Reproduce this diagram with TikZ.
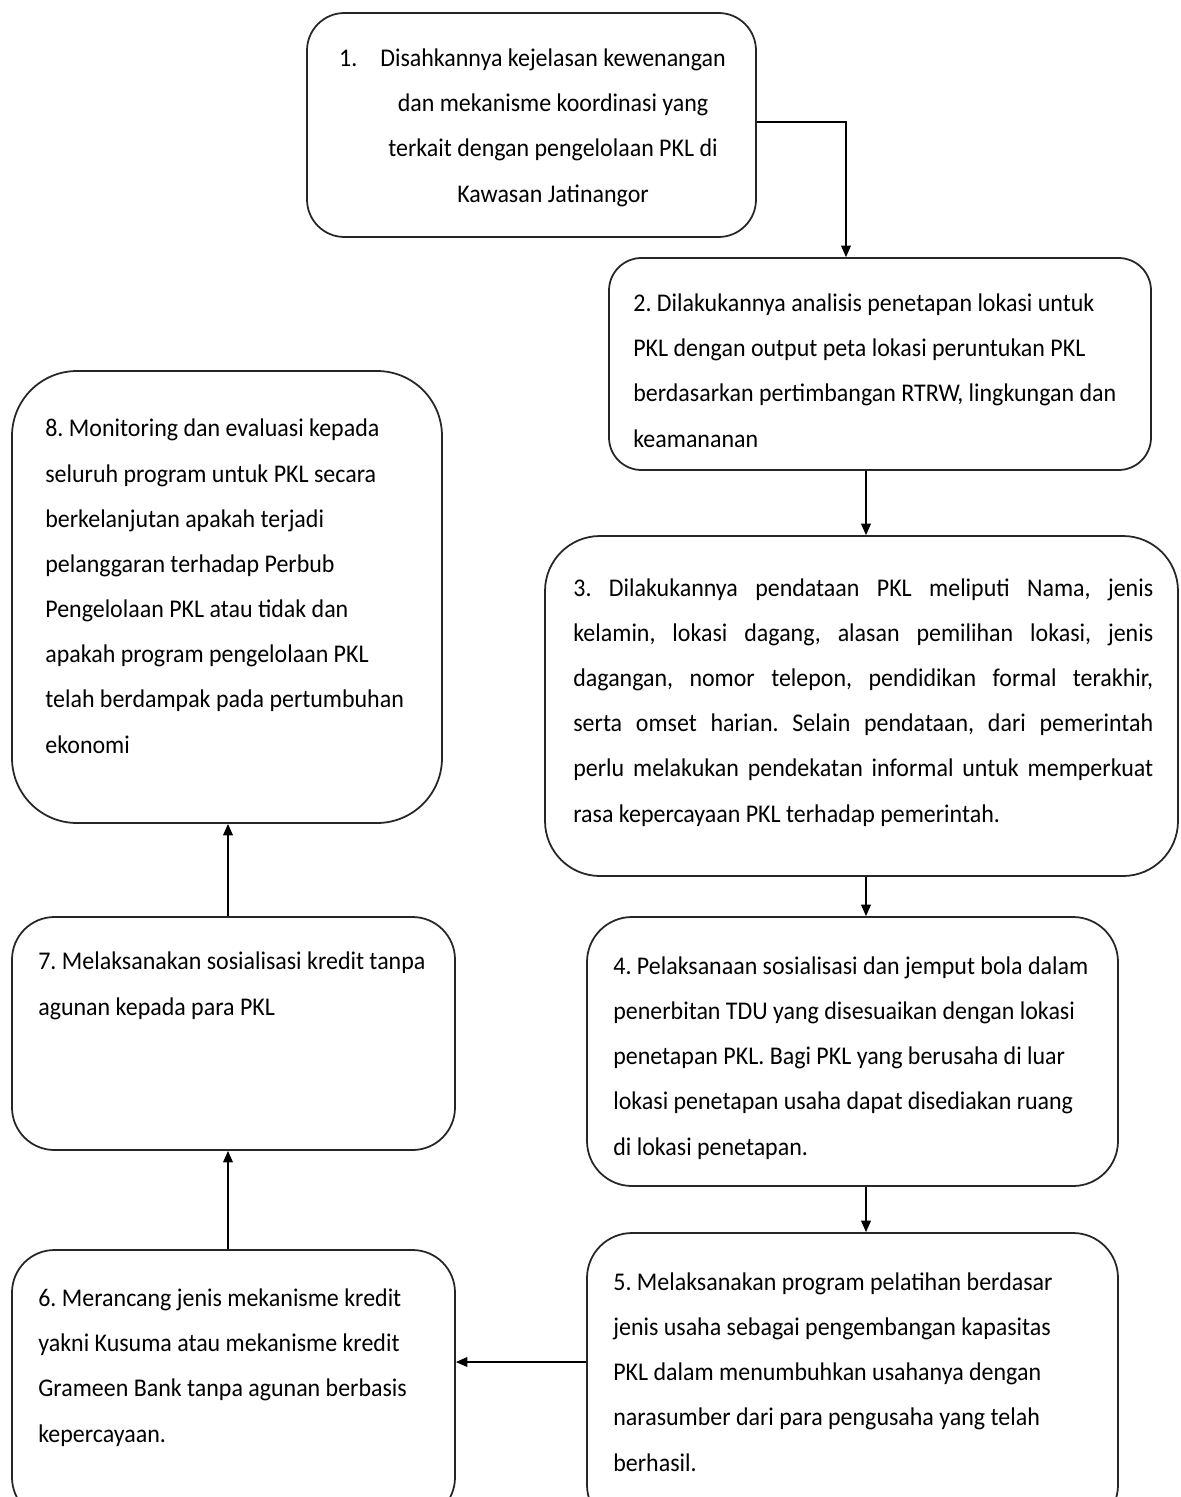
\documentclass[tikz,border=0pt]{standalone}
\usepackage{fontspec}
\setmainfont{Carlito}[FakeStretch=0.94]
\usepackage{tikz}
\usetikzlibrary{calc, fit, positioning}
\usetikzlibrary{shapes, arrows, arrows.meta}
\tikzset{
    stepbox/.style={rectangle, draw=black!85, line width=1pt, fill=white, inner sep=0pt},
    steptext/.style={inner sep=0pt, align=left, anchor=base west},% anchored at the baseline of the last line
    flowarrow/.style={-{Triangle[length=6.5pt, width=5.5pt]}, line width=0.8pt},
}
\newcommand{\fullLine}[1]{\makebox[11.6cm][s]{#1}}

\begin{document}
\begin{tikzpicture}[x=0.02cm, y=-0.02cm, font=\fontsize{14.5}{25.7}\selectfont\frenchspacing]
            \clip (0,0) rectangle (1180,1497);
            \fill[white] (0,0) rectangle (1180,1497);

            \node[stepbox, rounded corners=0.75cm, fit={(307,13) (756,237)}] (b1) {};
            \node[stepbox, rounded corners=0.65cm, fit={(609,258) (1151,470)}] (b2) {};
            \node[stepbox, rounded corners=1.1cm, fit={(545,536) (1178,876)}] (b3) {};
            \node[stepbox, rounded corners=0.9cm, fit={(587,917) (1118,1186)}] (b4) {};
            \node[stepbox, rounded corners=0.9cm, fit={(587,1233) (1118,1530)}] (b5) {};
            \node[stepbox, rounded corners=0.85cm, fit={(12,1250) (455,1520)}] (b6) {};
            \node[stepbox, rounded corners=0.85cm, fit={(12,917) (455,1150)}] (b7) {};
            \node[stepbox, rounded corners=1.3cm, fit={(12,371) (442,823)}] (b8) {};

            \node[steptext, align=center, anchor=base] (t1) at (553,202) {\llap{1.\hspace{0.46cm}}Disahkannya kejelasan kewenangan\\dan mekanisme koordinasi yang\\terkait dengan pengelolaan PKL di\\Kawasan Jatinangor};
            \node[steptext] (t2) at (633,447) {2. Dilakukannya analisis penetapan lokasi untuk\\PKL dengan output peta lokasi peruntukan PKL\\berdasarkan pertimbangan RTRW, lingkungan dan\\keamananan};
            \node[steptext] (t3) at (573,822) {\fullLine{3. Dilakukannya pendataan PKL meliputi Nama, jenis}\\\fullLine{kelamin, lokasi dagang, alasan pemilihan lokasi, jenis}\\\fullLine{dagangan, nomor telepon, pendidikan formal terakhir,}\\\fullLine{serta omset harian. Selain pendataan, dari pemerintah}\\\fullLine{perlu melakukan pendekatan informal untuk memperkuat}\\rasa kepercayaan PKL terhadap pemerintah.};
            \node[steptext] (t4) at (613,1155) {4. Pelaksanaan sosialisasi dan jemput bola dalam\\penerbitan TDU yang disesuaikan dengan lokasi\\penetapan PKL. Bagi PKL yang berusaha di luar\\lokasi penetapan usaha dapat disediakan ruang\\di lokasi penetapan.};
            \node[steptext] (t5) at (613,1471) {5. Melaksanakan program pelatihan berdasar\\jenis usaha sebagai pengembangan kapasitas\\PKL dalam menumbuhkan usahanya dengan\\narasumber dari para pengusaha yang telah\\berhasil.};
            \node[steptext] (t6) at (38,1442) {6. Merancang jenis mekanisme kredit\\yakni Kusuma atau mekanisme kredit\\Grameen Bank tanpa agunan berbasis\\kepercayaan.};
            \node[steptext] (t7) at (38,1015) {7. Melaksanakan sosialisasi kredit tanpa\\agunan kepada para PKL};
            \node[steptext] (t8) at (45,753) {8. Monitoring dan evaluasi kepada\\seluruh program untuk PKL secara\\berkelanjutan apakah terjadi\\pelanggaran terhadap Perbub\\Pengelolaan PKL atau tidak dan\\apakah program pengelolaan PKL\\telah berdampak pada pertumbuhan\\ekonomi};

            \coordinate (elbow) at (846,122);
            \coordinate (rightSpine) at (866,0);
            \coordinate (leftSpine) at (228,0);
            \coordinate (lowJoin) at (0,1362);

            \draw[flowarrow] (b1.east |- elbow) -- (elbow) -- (b2.north -| elbow);
            \draw[flowarrow] (b2.south -| rightSpine) -- (b3.north -| rightSpine);
            \draw[flowarrow] (b3.south -| rightSpine) -- (b4.north -| rightSpine);
            \draw[flowarrow] (b4.south -| rightSpine) -- (b5.north -| rightSpine);
            \draw[flowarrow] (b5.west |- lowJoin) -- (b6.east |- lowJoin);
            \draw[flowarrow] (b6.north -| leftSpine) -- (b7.south -| leftSpine);
            \draw[flowarrow] (b7.north -| leftSpine) -- (b8.south -| leftSpine);
        \end{tikzpicture}
\end{document}
